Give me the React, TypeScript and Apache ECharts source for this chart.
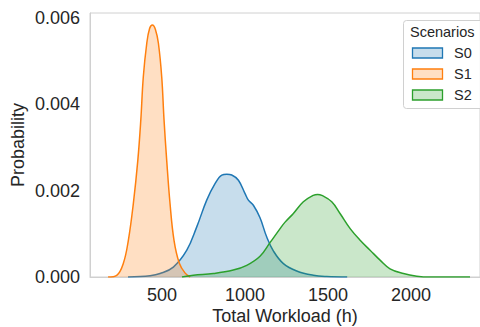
import React, { useEffect, useRef } from "react";
import * as echarts from "echarts";

// Scenario names
const scenarios = ["S0", "S1", "S2"];
const colors = ["#1f77b4", "#ff7f0e", "#2ca02c"];
const fills = ["rgba(31,119,180,0.25)", "rgba(255,127,14,0.25)", "rgba(44,160,44,0.25)"];

// Total workload (h) values and estimated densities
const s0Workload = [295, 428, 488, 568, 649, 709, 769, 819, 860, 890, 920, 960, 1000, 1020, 1050, 1090, 1130, 1171, 1231, 1311, 1411, 1492, 1615];
const s0Density = [0.0, 0.00003, 0.00008, 0.00023, 0.00062, 0.00116, 0.00178, 0.00216, 0.00236, 0.00238, 0.00236, 0.00224, 0.00193, 0.00178, 0.00166, 0.00137, 0.00093, 0.0006, 0.00031, 0.00014, 0.00004, 0.00001, 0.0];

const s1Workload = [175, 227, 267, 297, 327, 354, 372, 387, 408, 425, 442, 460, 478, 498, 512, 528, 548, 572, 604, 639, 669];
const s1Density = [0.0, 0.00004, 0.00032, 0.00085, 0.0017, 0.0027, 0.00363, 0.00463, 0.00541, 0.00575, 0.00583, 0.00573, 0.00541, 0.00463, 0.00363, 0.0027, 0.0017, 0.00085, 0.00032, 0.00009, 0.0];

const s2Workload = [620, 689, 809, 929, 1010, 1090, 1151, 1211, 1241, 1291, 1351, 1411, 1437, 1462, 1522, 1572, 1633, 1693, 1753, 1813, 1873, 1954, 2034, 2114, 2355];
const s2Density = [0.0, 0.00004, 0.00008, 0.00016, 0.00027, 0.00048, 0.0008, 0.00112, 0.00127, 0.00147, 0.00174, 0.00189, 0.00191, 0.00189, 0.00174, 0.00147, 0.00112, 0.00085, 0.00062, 0.00039, 0.00019, 0.00008, 0.00002, 0.0, 0.0];

const xValues = [s0Workload, s1Workload, s2Workload];
const yValues = [s0Density, s1Density, s2Density];

const FONT = "Liberation Sans, Arial, sans-serif";
const TEXT = "#262626";

export default function App() {
  const ref = useRef<HTMLDivElement>(null);
  useEffect(() => {
    if (!ref.current) return;
    const chart = echarts.init(ref.current, undefined, { renderer: "svg" });
    const series = scenarios.map((name, i) => ({
      name,
      type: "line",
      smooth: 0.4,
      showSymbol: false,
      symbol: "none",
      data: xValues[i].map((x, j) => [x, yValues[i][j]]),
      lineStyle: { color: colors[i], width: 1.5 },
      itemStyle: { color: colors[i] },
      areaStyle: { color: fills[i], opacity: 1 },
      z: 2 + i,
    }));
    const legendItems: any[] = [];
    scenarios.forEach((name, i) => {
      const cy = 53 + i * 21;
      legendItems.push({
        type: "rect",
        shape: { x: 412.5, y: cy - 5, width: 30, height: 10 },
        style: { fill: fills[i], stroke: colors[i], lineWidth: 1.3 },
      });
      legendItems.push({
        type: "text",
        x: 454,
        y: cy,
        style: { text: name, font: `14.5px ${FONT}`, fill: TEXT, verticalAlign: "middle", align: "left" },
      });
    });
    chart.setOption({
      animation: false,
      backgroundColor: "#ffffff",
      grid: {
        left: 90,
        right: 0,
        top: 13,
        bottom: 50,
        outerBoundsMode: "none",
        containLabel: false,
        show: true,
        borderColor: "#d0d0d0",
        borderWidth: 1,
      },
      xAxis: {
        type: "value",
        min: 66,
        max: 2415,
        name: "Total Workload (h)",
        nameLocation: "middle",
        nameGap: 30,
        nameMoveOverlap: false,
        nameTextStyle: { fontFamily: FONT, fontSize: 18, color: TEXT },
        axisLine: { show: true, lineStyle: { color: "#d0d0d0", width: 1 } },
        axisTick: { show: false },
        splitLine: { show: false },
        axisLabel: {
          showMinLabel: false,
          showMaxLabel: false,
          fontFamily: FONT,
          fontSize: 18,
          color: TEXT,
          margin: 9,
          formatter: (v: number) => String(v),
        },
      },
      yAxis: {
        type: "value",
        min: 0,
        max: 0.00611,
        interval: 0.002,
        name: "Probability",
        nameLocation: "middle",
        nameGap: 63,
        nameMoveOverlap: false,
        nameTextStyle: { fontFamily: FONT, fontSize: 18, color: TEXT },
        axisLine: { show: true, lineStyle: { color: "#d0d0d0", width: 1 } },
        axisTick: { show: false },
        splitLine: { show: false },
        axisLabel: {
          showMaxLabel: false,
          fontFamily: FONT,
          fontSize: 18,
          color: TEXT,
          margin: 10,
          formatter: (v: number) => v.toFixed(3),
        },
      },
      graphic: [
        {
          type: "rect",
          shape: { x: 403.5, y: 20.5, width: 85, height: 88, r: 3 },
          style: { fill: "rgba(255,255,255,0.8)", stroke: "#d0d0d0", lineWidth: 1 },
          z: 10,
        },
        {
          type: "text",
          x: 410,
          y: 32,
          style: { text: "Scenarios", font: `14.5px ${FONT}`, fill: TEXT, verticalAlign: "middle", align: "left" },
          z: 11,
        },
        ...legendItems.map((g) => ({ ...g, z: 11 })),
      ],
      series,
    });
    return () => chart.dispose();
  }, []);
  return <div ref={ref} style={{ width: 480, height: 327, position: "absolute", left: 0, top: 0 }} />;
}
